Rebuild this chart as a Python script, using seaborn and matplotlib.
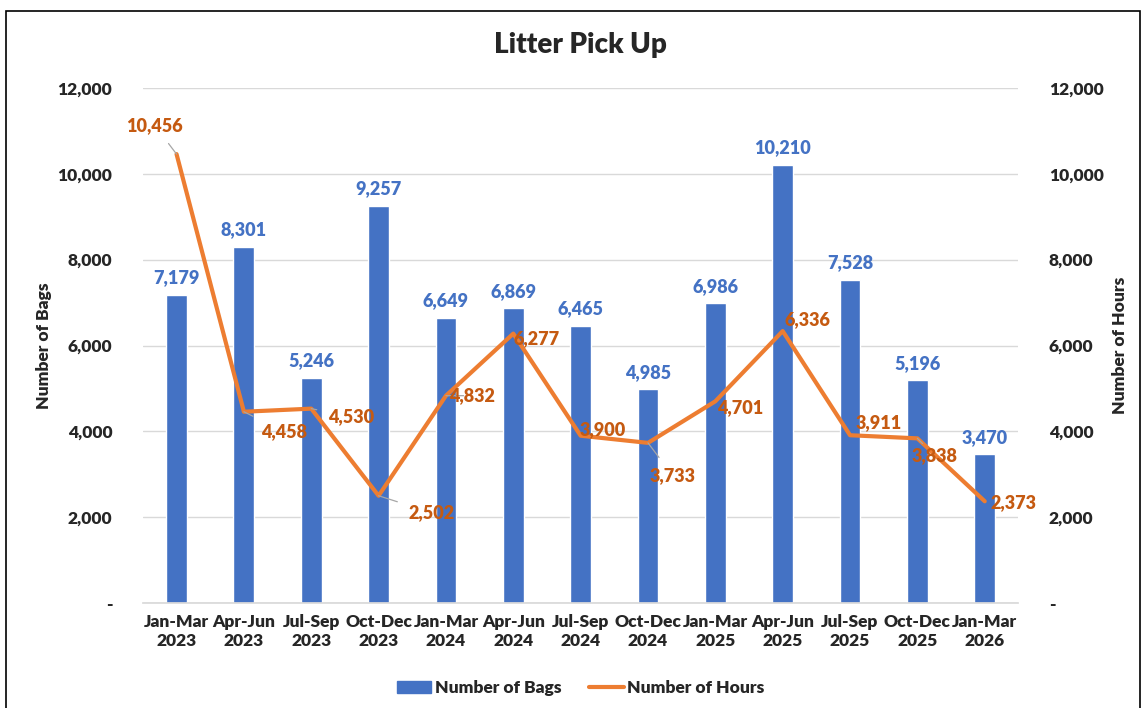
import numpy as np
import pandas as pd
import matplotlib
matplotlib.use("Agg")
import matplotlib.pyplot as plt
import seaborn as sns
from matplotlib.patches import Rectangle
from matplotlib.lines import Line2D
from matplotlib.ticker import FuncFormatter

categories = ["Jan-Mar\n2023", "Apr-Jun\n2023", "Jul-Sep\n2023", "Oct-Dec\n2023",
              "Jan-Mar\n2024", "Apr-Jun\n2024", "Jul-Sep\n2024", "Oct-Dec\n2024",
              "Jan-Mar\n2025", "Apr-Jun\n2025", "Jul-Sep\n2025", "Oct-Dec\n2025",
              "Jan-Mar\n2026"]
bags = [7179, 8301, 5246, 9257, 6649, 6869, 6465, 4985, 6986, 10210, 7528, 5196, 3470]
hours = [10456, 4458, 4530, 2502, 4832, 6277, 3900, 3733, 4701, 6336, 3911, 3838, 2373]
y_ticks = [0, 2000, 4000, 6000, 8000, 10000, 12000]

# label offsets (pixels) for the hours labels, and whether a leader line is drawn
hour_offsets = [(-22, 29), (40, -20), (40, -8), (53, -17), (26, 0), (23, -5), (22, 6),
                (25, -33), (25, -6), (25, 11), (29, 13), (17, -17), (29, -1)]
hour_leader = [True, True, True, True, True, False, False, True, False, False, False, True, False]

sns.set_theme(style="white")
plt.rcParams['font.family'] = ['Lato', 'DejaVu Sans']

BLUE = "#4472C4"
ORANGE = "#ED7D31"
ORANGE_TXT = "#C55A11"
W = "heavy"

fig = plt.figure(figsize=(11.43, 7.08), dpi=100)
ax = fig.add_axes([0.125, 0.148, 0.766, 0.728])

df = pd.DataFrame({"cat": categories, "bags": bags})
sns.barplot(data=df, x="cat", y="bags", color=BLUE, saturation=1, width=0.31, ax=ax, zorder=2)
for c in ax.containers:
    ax.bar_label(c, labels=[f"{v:,}" for v in bags], padding=6, color=BLUE,
                 fontsize=13, fontweight=W)

ax2 = ax.twinx()
sns.lineplot(x=np.arange(len(hours)), y=hours, color=ORANGE, linewidth=3, ax=ax2, zorder=3)

for i, (v, off, lead) in enumerate(zip(hours, hour_offsets, hour_leader)):
    kw = {}
    if lead:
        kw["arrowprops"] = dict(arrowstyle="-", color="#A6A6A6", lw=0.9, shrinkA=6, shrinkB=0)
    ax2.annotate(f"{v:,}", xy=(i, v), xytext=off, textcoords="offset pixels",
                 ha="center", va="center", color=ORANGE_TXT, fontsize=13,
                 fontweight=W, **kw)

fmt = FuncFormatter(lambda v, p: "-" if v == 0 else f"{int(v):,}")
for a in (ax, ax2):
    a.set_ylim(0, 12000)
    a.set_yticks(y_ticks)
    a.yaxis.set_major_formatter(fmt)
    for s in a.spines.values():
        s.set_visible(False)
    a.tick_params(axis="y", length=0, labelsize=12.5, pad=22)
    for lab in a.get_yticklabels():
        lab.set_fontweight(W)

ax.set_xlim(-0.5, len(categories) - 0.5)
ax.spines["bottom"].set_visible(True)
ax.spines["bottom"].set_color("#D9D9D9")
ax.yaxis.grid(True, color="#D9D9D9", linewidth=1)
ax.set_axisbelow(True)
ax.tick_params(axis="x", length=0, labelsize=12.5, pad=8)
for lab in ax.get_xticklabels():
    lab.set_fontweight(W)
ax.set_xlabel("")
ax.set_ylabel("Number of Bags", fontsize=12.5, fontweight=W, labelpad=4)
ax2.set_ylabel("Number of Hours", fontsize=12.5, fontweight=W, labelpad=6)

fig.suptitle("Litter Pick Up", x=0.508, y=0.955, fontsize=20, fontweight=W)

handles = [Rectangle((0, 0), 1, 1, color=BLUE), Line2D([0], [0], color=ORANGE, lw=3)]
fig.legend(handles, ["Number of Bags", "Number of Hours"], loc="center",
           bbox_to_anchor=(0.508, 0.028), ncol=2, frameon=False,
           prop={"weight": W, "size": 12.5}, handlelength=2.0, columnspacing=1.6,
           handletextpad=0.2)

fig.patches.append(Rectangle((0.005, -0.01), 0.992, 0.995, transform=fig.transFigure,
                             fill=False, edgecolor="black", linewidth=1.2))

fig.savefig("out.png", dpi=100)
